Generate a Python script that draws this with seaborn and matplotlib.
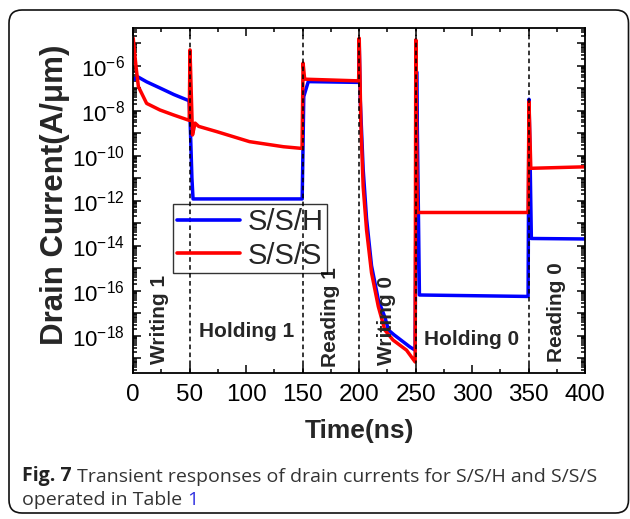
import numpy as np
import pandas as pd
import matplotlib
matplotlib.use("Agg")
import matplotlib.pyplot as plt
import seaborn as sns
from matplotlib.ticker import LogLocator, FuncFormatter, MultipleLocator, NullFormatter
from matplotlib.patches import FancyBboxPatch

# ---- transient drain current, S/S/H device ----
time_ssh = [0, 4, 12, 24, 36, 49.5, 50.5, 52, 53, 149.6, 150.3, 151, 155, 199.6,
            200.1, 201, 203.6, 206.6, 211, 217, 223, 226, 231, 245, 249.6,
            250.9, 252.5, 253.4, 349.6, 350.4, 351.5, 352.5, 400]
current_ssh = [2.3e-7, 3.2e-7, 1.9e-7, 1.0e-7, 5.2e-8, 2.75e-8, 2.5e-9, 1.0e-11, 1.2e-12,
               1.2e-12, 1.7e-10, 4.2e-8, 1.95e-7, 1.8e-7,
               1.0e-5, 3.2e-8, 2.5e-11, 1.6e-13, 1.3e-15, 4.0e-17, 6.3e-18, 1.8e-18,
               1.1e-18, 3.2e-19, 2.3e-19,
               5.4e-7, 3.0e-13, 6.5e-17, 5.6e-17, 3.2e-8, 2.75e-11, 2.1e-14, 2.0e-14]

# ---- transient drain current, S/S/S device ----
time_sss = [0, 2.5, 4.6, 11.9, 23.7, 35.5, 49.6, 50.3, 52.5, 54.8, 58, 74, 103, 133,
            149.5, 150.4, 151.8, 199.6, 200.1, 200.8, 201.5, 203.6, 206.6, 211, 217,
            222.8, 230, 242, 249.6, 250.2, 251.5, 349.6, 350.4, 352, 400]
current_sss = [1.66e-5, 9.1e-7, 1.17e-7, 2.1e-8, 1.07e-8, 6.5e-9, 3.7e-9, 5.0e-6, 8.3e-10,
               2.8e-9, 2.0e-9, 1.17e-9, 4.2e-10, 2.5e-10,
               2.1e-10, 1.3e-6, 2.5e-7, 2.1e-7, 1.66e-5, 3.2e-7, 3.2e-9, 4.2e-12, 5.0e-14,
               6.3e-16, 2.0e-17,
               1.8e-18, 6.5e-19, 2.3e-19, 6.9e-20, 1.4e-5, 3.0e-13, 3.0e-13, 2.5e-8,
               2.75e-11, 3.2e-11]

devices = ["S/S/H", "S/S/S"]
phase_bounds = [50, 150, 200, 250, 350]
phase_names = ["Writing 1", "Holding 1", "Reading 1", "Writing 0", "Holding 0", "Reading 0"]

df = pd.concat([
    pd.DataFrame({"Time": time_ssh, "Current": current_ssh, "Device": devices[0]}),
    pd.DataFrame({"Time": time_sss, "Current": current_sss, "Device": devices[1]}),
], ignore_index=True)

sns.set_style("ticks")
plt.rcParams["font.family"] = ["Liberation Sans", "DejaVu Sans"]
plt.rcParams["mathtext.fontset"] = "custom"
plt.rcParams["mathtext.rm"] = "Liberation Sans"
plt.rcParams["mathtext.it"] = "Liberation Sans:italic"
plt.rcParams["mathtext.bf"] = "Liberation Sans:bold"

fig = plt.figure(figsize=(6.3, 5.19), dpi=100)
fig.patch.set_facecolor("white")
ax = fig.add_axes([0.2114, 0.2819, 0.7172, 0.6642])

sns.lineplot(data=df, x="Time", y="Current", hue="Device", hue_order=devices,
             palette={"S/S/H": "#0000ff", "S/S/S": "#ff0000"},
             estimator=None, sort=False, linewidth=2.5, ax=ax, legend=True)

ax.set_yscale("log")
ax.set_xlim(0, 400)
ax.set_ylim(2.3e-20, 4.7e-5)

# phase boundaries
for xb in phase_bounds:
    ax.axvline(xb, color="black", linestyle=(0, (3.0, 2.2)), linewidth=1.1, zorder=5)

# axis ticks
ax.xaxis.set_major_locator(MultipleLocator(50))
ax.xaxis.set_minor_locator(MultipleLocator(25))
ax.yaxis.set_major_locator(LogLocator(base=10, numticks=60))
ax.yaxis.set_minor_locator(LogLocator(base=10, subs=np.arange(2, 10), numticks=60))
ax.yaxis.set_minor_formatter(NullFormatter())


def even_decades(v, pos):
    e = int(round(np.log10(v)))
    return r"$10^{%d}$" % e if e % 2 == 0 else ""


ax.yaxis.set_major_formatter(FuncFormatter(even_decades))
ax.tick_params(which="both", direction="in", top=True, right=True, width=1.1, colors="black")
ax.tick_params(which="major", length=6, labelsize=16, pad=6)
ax.tick_params(which="minor", length=3)
ax.tick_params(axis="x", which="major", pad=8, labelsize=17.5)
for s in ax.spines.values():
    s.set_linewidth(1.3)
    s.set_color("black")

ax.set_xlabel("Time(ns)", fontsize=19, fontweight="bold")
ax.set_ylabel("Drain Current(A/\u03bcm)", fontsize=22.5, fontweight="bold")
ax.xaxis.set_label_coords(0.5, -0.135)
ax.yaxis.set_label_coords(-0.14, 0.515)

# phase names
ax.text(23.7, 5.5e-18, phase_names[0], rotation=90, ha="center", va="center",
        fontsize=15, fontweight="bold")
ax.text(100.4, 8.5e-19, phase_names[1], ha="center", va="baseline",
        fontsize=15, fontweight="bold")
ax.text(175, 6.6e-18, phase_names[2], rotation=90, ha="center", va="center",
        fontsize=15, fontweight="bold")
ax.text(224.3, 4.6e-18, phase_names[3], rotation=90, ha="center", va="center",
        fontsize=15, fontweight="bold")
ax.text(299.4, 3.9e-19, phase_names[4], ha="center", va="baseline",
        fontsize=15, fontweight="bold")
ax.text(374.6, 1.15e-17, phase_names[5], rotation=90, ha="center", va="center",
        fontsize=15, fontweight="bold")

leg = ax.legend(loc="upper left", bbox_to_anchor=(0.0888, 0.4885), borderaxespad=0,
                fontsize=21, handlelength=2.15, handletextpad=0.28, borderpad=0.12,
                labelspacing=0.2, frameon=True, fancybox=False)
leg.get_frame().set_edgecolor("black")
leg.get_frame().set_linewidth(1.0)
leg.get_frame().set_facecolor("none")
for ln in leg.get_lines():
    ln.set_linewidth(2.6)

# caption
cap_font = ["Open Sans", "DejaVu Sans"]
t1 = fig.text(22 / 630, 1 - 481 / 519, "Fig. 7", fontsize=14, fontweight="bold",
              family=cap_font, color="#222222", va="baseline")
ax.annotate(" Transient responses of drain currents for S/S/H and S/S/S",
            xy=(1, 0), xycoords=t1, ha="left", va="bottom", fontsize=14,
            family=cap_font, color="#333333", annotation_clip=False)
t3 = fig.text(22 / 630, 1 - 505 / 519, "operated in Table ", fontsize=14,
              family=cap_font, color="#333333", va="baseline")
ax.annotate("1", xy=(1, 0), xycoords=t3, ha="left", va="bottom", fontsize=14,
            family=cap_font, color="#2f2fe0", annotation_clip=False)

# rounded frame around figure and caption
frame = FancyBboxPatch((0.09, 0.06), 6.195, 5.03,
                       boxstyle="round,pad=0,rounding_size=0.13",
                       transform=fig.dpi_scale_trans, fill=False,
                       edgecolor="#111111", linewidth=1.2)
fig.add_artist(frame)

fig.savefig("out.png", dpi=100, facecolor="white")
